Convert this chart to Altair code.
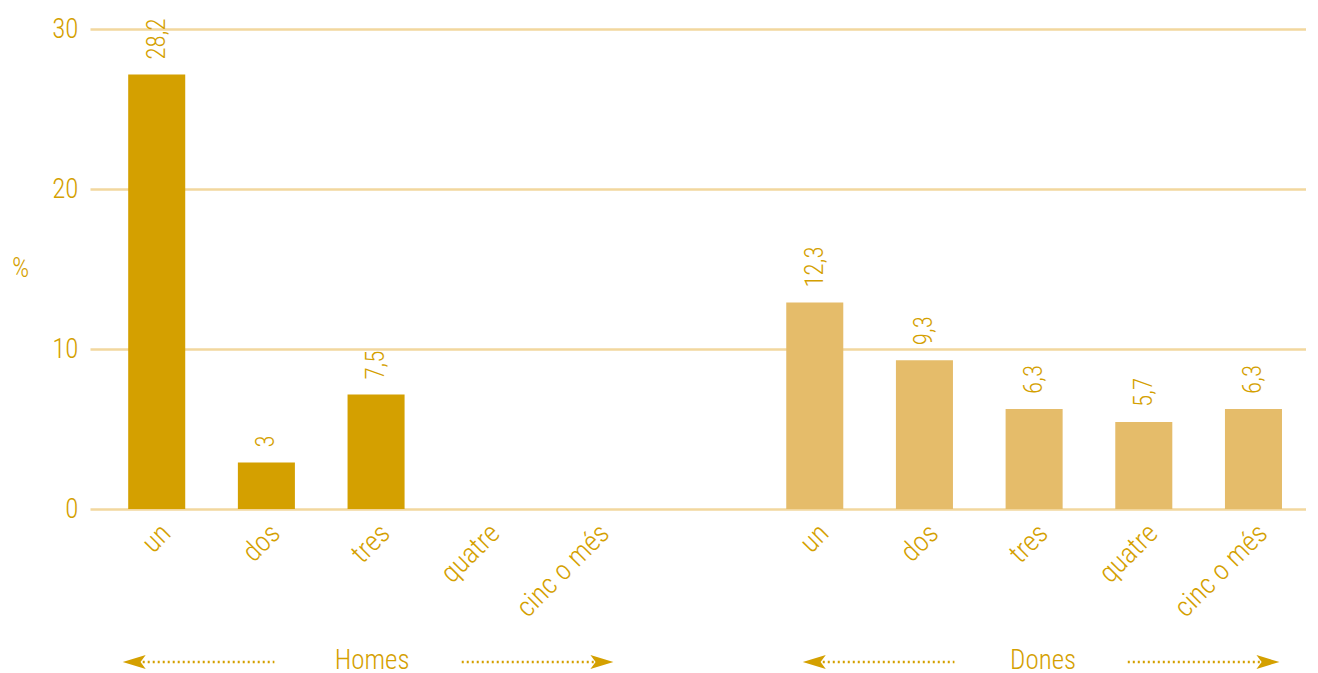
import altair as alt
import pandas as pd

groups = ["Homes", "Dones"]
categories = ["un", "dos", "tres", "quatre", "cinc o més"]
homes_values = [27.15, 2.9, 7.15, None, None]
dones_values = [12.9, 9.3, 6.25, 5.44, 6.25]
homes_labels = ["28,2", "3", "7,5", "", ""]
dones_labels = ["12,3", "9,3", "6,3", "5,7", "6,3"]
y_ticks = [0, 10, 20, 30]

FONT = "'Roboto Condensed', 'Open Sans Condensed Light', sans-serif"
W = 300
TEXT_COLOR = "#D4A000"
GRID_COLOR = "#F2D79E"
colors = ["#D4A000", "#E5BC6A"]

domain = [f"Homes|{c}" for c in categories] + ["gap"] + [f"Dones|{c}" for c in categories]

rows = []
for g, vals, labs in [("Homes", homes_values, homes_labels), ("Dones", dones_values, dones_labels)]:
    for c, v, l in zip(categories, vals, labs):
        if v is None:
            continue
        rows.append({"key": f"{g}|{c}", "group": g, "value": v, "label": l})
df = pd.DataFrame(rows)

xscale = alt.Scale(domain=domain, paddingInner=0.48, paddingOuter=0.2836, align=0.614)
yscale = alt.Scale(domain=[0, 30], nice=False)

x_axis = alt.Axis(
    labelExpr="indexof(datum.label, '|') >= 0 ? split(datum.label, '|')[1] : ''",
    labelAngle=-45, labelFont=FONT, labelFontSize=28, labelFontWeight=W, labelColor=TEXT_COLOR,
    labelPadding=10, ticks=False, domain=False, grid=False, title=None,
)
y_axis = alt.Axis(
    values=y_ticks, labelFont=FONT, labelFontSize=27, labelFontWeight=W, labelColor=TEXT_COLOR,
    labelPadding=12, ticks=False, domain=False, grid=True, gridColor=GRID_COLOR,
    gridWidth=2.5, title="%", titleAngle=0, titleFont=FONT, titleFontSize=27,
    titleFontWeight=W, titleColor=TEXT_COLOR, titleX=-70, titleY=239,
    titleAlign="center", titleBaseline="middle",
)

color = alt.Color("group:N", scale=alt.Scale(domain=groups, range=colors), legend=None)

bars = alt.Chart(df).mark_bar().encode(
    x=alt.X("key:N", scale=xscale, axis=x_axis),
    y=alt.Y("value:Q", scale=yscale, axis=y_axis),
    color=color,
)

labels = alt.Chart(df).mark_text(
    angle=270, align="left", baseline="middle", dx=15,
    font=FONT, fontSize=25, fontWeight=W, color=TEXT_COLOR,
).encode(
    x=alt.X("key:N", scale=xscale, axis=x_axis),
    y=alt.Y("value:Q", scale=yscale),
    text="label:N",
)

ARROW_Y = 633
# per-group decoration offsets: left tip, left end, right start, right tip, text
deco_offsets = {"Homes": (-34, 8, -24, 18, -4), "Dones": (-12, 30, -16, 26, 9)}

deco_layers = []
for g in groups:
    lt, le, rs, rt, tx = deco_offsets[g]
    a = pd.DataFrame([{"group": g, "lstart": f"{g}|{categories[0]}", "lend": f"{g}|{categories[1]}",
                       "rstart": f"{g}|{categories[3]}", "rend": f"{g}|{categories[4]}",
                       "mid": f"{g}|{categories[2]}"}])
    base = alt.Chart(a)
    deco_layers.append(base.mark_rule(
        strokeDash=[2, 3], strokeWidth=2.5, color=TEXT_COLOR, xOffset=lt + 10, x2Offset=le,
    ).encode(x=alt.X("lstart:N", scale=xscale, axis=x_axis), x2="lend:N", y=alt.value(ARROW_Y)))
    deco_layers.append(base.mark_rule(
        strokeDash=[2, 3], strokeWidth=2.5, color=TEXT_COLOR, xOffset=rs, x2Offset=rt - 10,
    ).encode(x=alt.X("rstart:N", scale=xscale, axis=x_axis), x2="rend:N", y=alt.value(ARROW_Y)))
    deco_layers.append(base.mark_point(
        shape="M -1 0 L 1 -0.6 L 0.55 0 L 1 0.6 Z", size=529, filled=True, opacity=1,
        color=TEXT_COLOR, xOffset=lt + 11.5,
    ).encode(x=alt.X("lstart:N", scale=xscale, axis=x_axis), y=alt.value(ARROW_Y)))
    deco_layers.append(base.mark_point(
        shape="M 1 0 L -1 -0.6 L -0.55 0 L -1 0.6 Z", size=529, filled=True, opacity=1,
        color=TEXT_COLOR, xOffset=rt - 11.5,
    ).encode(x=alt.X("rend:N", scale=xscale, axis=x_axis), y=alt.value(ARROW_Y)))
    deco_layers.append(base.mark_text(
        font=FONT, fontSize=27, fontWeight=W, color=TEXT_COLOR, baseline="middle", align="center",
        dx=tx,
    ).encode(x=alt.X("mid:N", scale=xscale, axis=x_axis), y=alt.value(ARROW_Y - 1), text="group:N"))

chart = alt.layer(bars, labels, *deco_layers).properties(
    width=1216, height=480,
    autosize=alt.AutoSizeParams(type="none"),
    padding={"left": 82, "top": 21, "right": 0, "bottom": 175},
).configure_view(stroke=None).configure_axis(gridCap="butt")

chart.save("out.html", embed_options={"renderer": "svg", "actions": False})
